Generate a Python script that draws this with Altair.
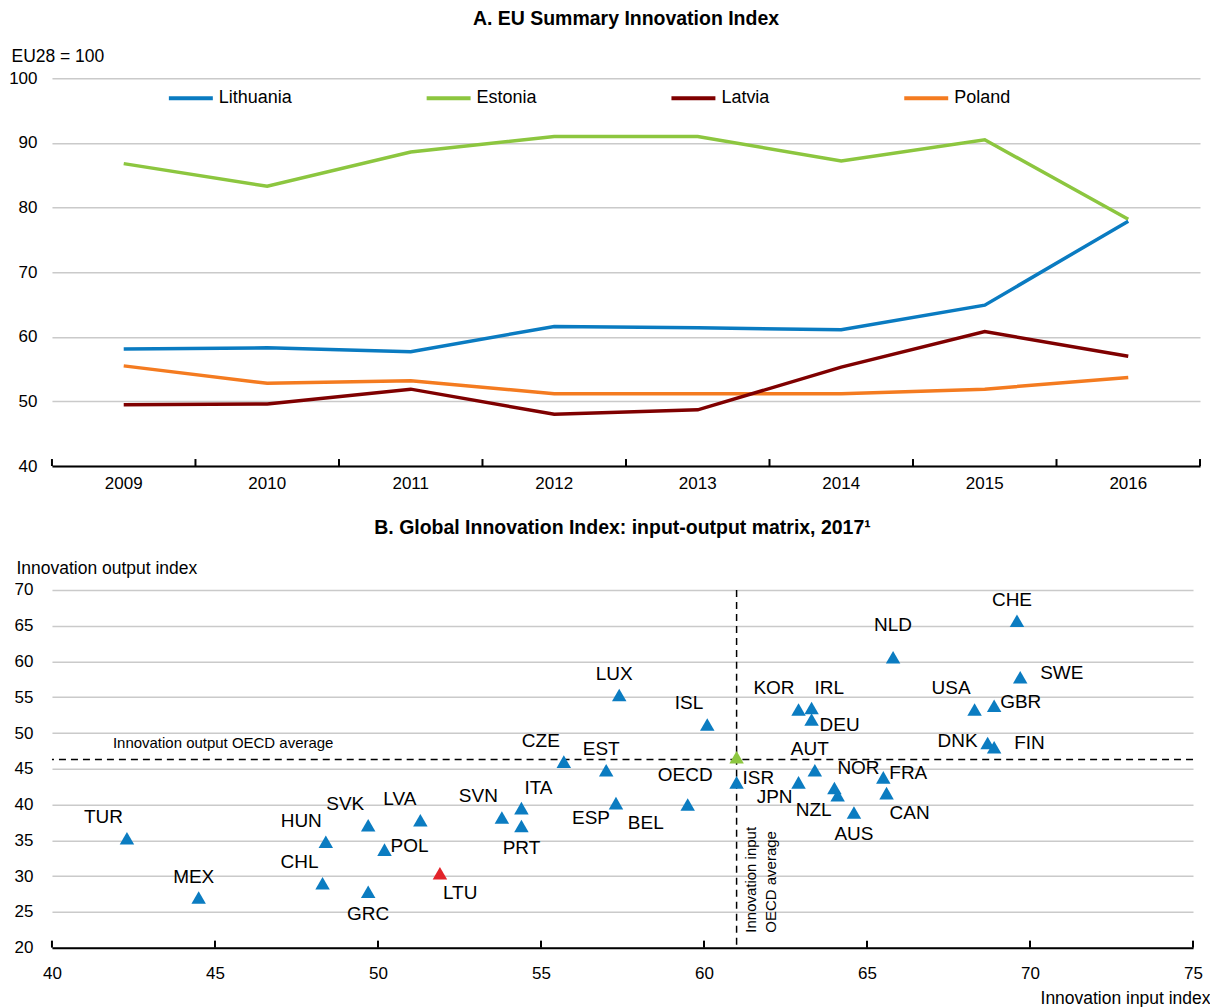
import altair as alt
import pandas as pd

FONT = "Liberation Sans, Arial, sans-serif"

# ---------------- Panel A data ----------------
years = ["2009", "2010", "2011", "2012", "2013", "2014", "2015", "2016"]
series_names = ["Lithuania", "Estonia", "Latvia", "Poland"]
lithuania = [58.1, 58.3, 57.7, 61.6, 61.4, 61.1, 64.9, 77.9]
estonia = [86.8, 83.3, 88.6, 91.0, 91.0, 87.2, 90.5, 78.2]
latvia = [49.5, 49.6, 51.9, 48.0, 48.7, 55.3, 60.8, 57.0]
poland = [55.5, 52.8, 53.2, 51.2, 51.2, 51.2, 51.9, 53.7]
series_colors = ["#0A7BC1", "#8CC63F", "#7F0000", "#F47B20"]
y_ticks_a = [40, 50, 60, 70, 80, 90, 100]

# ---------------- Panel B data ----------------
countries = ["TUR", "MEX", "HUN", "CHL", "SVK", "GRC", "POL", "LVA", "LTU", "SVN",
             "ITA", "PRT", "CZE", "EST", "ESP", "LUX", "ISL", "BEL", "OECD", "ISR",
             "KOR", "IRL", "DEU", "JPN", "AUT", "NOR", "NZL", "AUS", "FRA", "CAN",
             "NLD", "USA", "GBR", "DNK", "FIN", "CHE", "SWE"]
input_index = [42.3, 44.5, 48.4, 48.3, 49.7, 49.7, 50.2, 51.3, 51.9, 53.8,
               54.4, 54.4, 55.7, 57.0, 57.3, 57.4, 60.1, 59.5, 61.0, 61.0,
               62.9, 63.3, 63.3, 62.9, 63.4, 64.0, 64.1, 64.6, 65.5, 65.6,
               65.8, 68.3, 68.9, 68.7, 68.9, 69.6, 69.7]
output_index = [35.3, 27.0, 34.8, 29.0, 37.1, 27.8, 33.7, 37.8, 30.4, 38.2,
                39.5, 37.0, 46.0, 44.8, 40.2, 55.3, 51.2, 40.0, 46.6, 43.1,
                53.3, 53.5, 51.9, 43.1, 44.8, 42.3, 41.3, 38.9, 43.8, 41.6,
                60.6, 53.3, 53.8, 48.6, 48.0, 65.7, 57.8]
label_side = ["NW", "N", "NW", "NW", "NW", "S", "E", "NW", "SE", "NW",
              "NE", "S", "NW", "N", "SW", "N", "NW", "SWW", "SWW", "E",
              "NW", "NE", "ES", "SW", "N", "NE", "SW", "S", "E", "SE",
              "NN", "NW", "E", "W", "EE", "N", "EE"]
highlight_country = "LTU"
average_country = "OECD"
oecd_input_avg = 61.0
oecd_output_avg = 46.3
x_ticks_b = [40, 45, 50, 55, 60, 65, 70, 75]
y_ticks_b = [20, 25, 30, 35, 40, 45, 50, 55, 60, 65, 70]
group_names = ["country", "highlight", "average"]
group_colors = ["#0B7CC1", "#E2232A", "#8CC63F"]

WA, HA = 1149, 388
WB, HB = 1142, 358
GRID = "#CACACA"
TICK_FS = 17
TITLE_FS = 19.5
AXTITLE_FS = 17.5

# ---------------- Panel A ----------------
draw_order = ["Poland", "Latvia", "Estonia", "Lithuania"]
values_by_series = dict(zip(series_names, [lithuania, estonia, latvia, poland]))
dfA = pd.DataFrame({
    "year": years * len(draw_order),
    "value": [v for n in draw_order for v in values_by_series[n]],
    "series": [n for n in draw_order for _ in years],
})

axisA_x = alt.Axis(title=None, labelAngle=0, ticks=False, domainColor="black", domainWidth=2,
                   labelPadding=9.5, labelFontSize=TICK_FS, labelFont=FONT, labelColor="black", grid=False)
scaleA_x = alt.Scale(type="band", paddingInner=0, paddingOuter=0)
yA = alt.Y("value:Q", scale=alt.Scale(domain=[40, 100], nice=False, zero=False),
           axis=alt.Axis(values=y_ticks_a, domain=False, ticks=False, gridColor=GRID, gridWidth=1.5,
                         labelPadding=15, labelFontSize=TICK_FS, labelFont=FONT, labelColor="black",
                         title="EU28 = 100", titleAngle=0, titleAlign="left", titleBaseline="alphabetic",
                         titleX=-41, titleY=-17, titleFontSize=AXTITLE_FS, titleFontWeight="normal",
                         titleFont=FONT, titleColor="black"))

lines = alt.Chart(dfA).mark_line(strokeWidth=3.5).encode(
    x=alt.X("year:O", scale=scaleA_x, axis=axisA_x),
    y=yA,
    color=alt.Color("series:N", sort=series_names,
                    scale=alt.Scale(domain=series_names, range=series_colors),
                    legend=alt.Legend(title=None, orient="none", legendX=115, legendY=-4,
                                      direction="horizontal", symbolType="stroke",
                                      symbolStrokeWidth=4, symbolSize=1936,
                                      labelFontSize=18, labelFont=FONT, labelColor="black",
                                      columnPadding=126, labelOffset=4)),
)

ticksA = alt.Chart(pd.DataFrame({"year": years})).mark_rule(color="black", strokeWidth=2).encode(
    x=alt.X("year:O", bandPosition=0, scale=scaleA_x, axis=axisA_x),
    y=alt.value(HA), y2=alt.value(HA - 7))
ticksA_end = alt.Chart(pd.DataFrame({"year": years[-1:]})).mark_rule(color="black", strokeWidth=2).encode(
    x=alt.X("year:O", bandPosition=1, scale=scaleA_x, axis=axisA_x),
    y=alt.value(HA), y2=alt.value(HA - 7))

chartA = alt.layer(lines, ticksA, ticksA_end).properties(
    width=WA, height=HA,
    title=alt.TitleParams("A. EU Summary Innovation Index", font=FONT, fontSize=TITLE_FS,
                          fontWeight="bold", color="black", anchor="middle", offset=18))

# ---------------- Panel B ----------------
dfB = pd.DataFrame({
    "country": countries,
    "inp": input_index,
    "out": output_index,
    "side": label_side,
    "group": [("highlight" if c == highlight_country else "average" if c == average_country else "country")
              for c in countries],
})

xB = alt.X("inp:Q", scale=alt.Scale(domain=[40, 75], nice=False, zero=False),
           axis=alt.Axis(values=x_ticks_b, grid=False, ticks=False, domainColor="black", domainWidth=2,
                         labelPadding=18, labelFlush=False, labelFontSize=TICK_FS, labelFont=FONT,
                         labelColor="black",
                         title="Innovation input index", titleAnchor="end", titleAlign="right",
                         titleBaseline="alphabetic", titleX=WB + 17, titleY=56, titleFontSize=AXTITLE_FS,
                         titleFontWeight="normal", titleFont=FONT, titleColor="black"))
yB = alt.Y("out:Q", scale=alt.Scale(domain=[20, 70], nice=False, zero=False),
           axis=alt.Axis(values=y_ticks_b, domain=False, ticks=False, gridColor=GRID, gridWidth=1.5,
                         labelPadding=19, labelFontSize=TICK_FS, labelFont=FONT, labelColor="black",
                         title="Innovation output index", titleAngle=0, titleAlign="left",
                         titleBaseline="alphabetic", titleX=-36, titleY=-16, titleFontSize=AXTITLE_FS,
                         titleFontWeight="normal", titleFont=FONT, titleColor="black"))

hline = alt.Chart(pd.DataFrame({"out": [oecd_output_avg]})).mark_rule(
    color="black", strokeDash=[7, 5], strokeWidth=1.5).encode(y=yB)
vline = alt.Chart(pd.DataFrame({"inp": [oecd_input_avg]})).mark_rule(
    color="black", strokeDash=[7, 5], strokeWidth=1.5).encode(x=xB)

points = alt.Chart(dfB).mark_point(shape="triangle-up", filled=True, size=210, opacity=1).encode(
    x=xB, y=yB,
    color=alt.Color("group:N", scale=alt.Scale(domain=group_names, range=group_colors), legend=None))

offsets = {
    "N": dict(align="center", dx=-5, dy=-21),
    "NN": dict(align="center", dx=0, dy=-32),
    "S": dict(align="center", dx=0, dy=22),
    "E": dict(align="left", dx=6, dy=-4),
    "EE": dict(align="left", dx=20, dy=-4),
    "ES": dict(align="left", dx=8, dy=6),
    "W": dict(align="right", dx=-10, dy=-2),
    "NE": dict(align="left", dx=3, dy=-20),
    "NW": dict(align="right", dx=-4, dy=-21),
    "SE": dict(align="left", dx=3, dy=20),
    "SW": dict(align="right", dx=-6, dy=15),
    "SWW": dict(align="right", dx=-24, dy=18),
}
label_layers = [
    alt.Chart(dfB).transform_filter(alt.datum.side == side).mark_text(
        font=FONT, fontSize=19, color="black", baseline="middle", **o
    ).encode(x=xB, y=yB, text="country:N")
    for side, o in offsets.items()
]

ann_h = alt.Chart(pd.DataFrame({"inp": [x_ticks_b[0]], "out": [oecd_output_avg],
                                "t": ["Innovation output OECD average"]})).mark_text(
    align="left", baseline="alphabetic", dx=61, dy=-11, fontSize=15, font=FONT, color="black"
).encode(x=xB, y=yB, text="t:N")
ann_v = alt.Chart(pd.DataFrame({"inp": [oecd_input_avg], "out": [y_ticks_b[0]],
                                "t": ["Innovation input\nOECD average"]})).mark_text(
    align="left", baseline="top", angle=270, dx=15, dy=7, fontSize=15, lineHeight=20,
    lineBreak="\n", font=FONT, color="black"
).encode(x=xB, y=yB, text="t:N")

ticksB = alt.Chart(pd.DataFrame({"inp": x_ticks_b})).mark_rule(color="black", strokeWidth=2).encode(
    x=xB, y=alt.value(HB), y2=alt.value(HB - 7))

chartB = alt.layer(hline, vline, ticksB, ann_h, ann_v, points, *label_layers).properties(
    width=WB, height=HB,
    title=alt.TitleParams("B. Global Innovation Index: input-output matrix, 2017¹", font=FONT,
                          fontSize=TITLE_FS, fontWeight="bold", color="black", anchor="middle", offset=21))

chart = alt.vconcat(chartA, chartB, spacing=26).resolve_scale(
    color="independent", x="independent", y="independent"
).properties(
    padding={"left": 0, "top": 0, "right": 0, "bottom": 0}, background="white"
).configure_view(stroke=None)

chart.save("out.html", embed_options={"renderer": "svg", "actions": False})
